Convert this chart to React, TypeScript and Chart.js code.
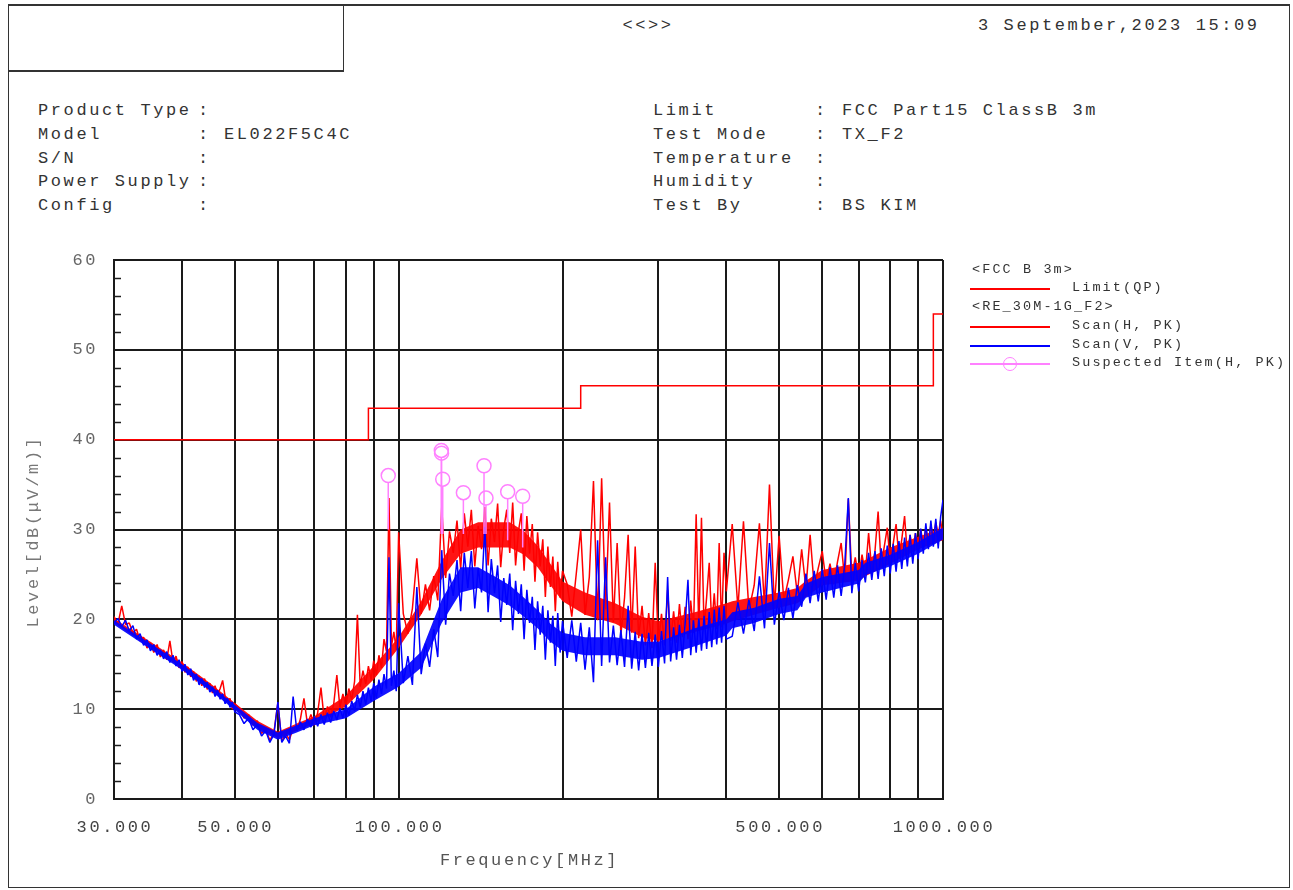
import React, { useEffect, useRef } from "react";
import { Chart, registerables } from "chart.js";

Chart.register(...registerables);

const FONT = '"Liberation Mono", "DejaVu Sans Mono", monospace';

// ---------- data ----------
// scan traces (peak detector), fine grid
const freqBand1 = [30, 30.5, 31, 31.5, 32, 32.5, 33, 33.5, 34, 34.5, 35, 35.5, 36, 36.5, 37, 37.5, 38, 38.5, 39, 39.5, 40, 40.5, 41, 41.5, 42, 42.5, 43, 43.5, 44, 44.5, 45, 45.5, 46, 46.5, 47, 47.5, 48, 48.5, 49, 49.5, 50];
const redBand1 = [20.3, 19.5, 21.5, 19.4, 19.6, 18.5, 18.9, 17.6, 18.0, 16.8, 17.4, 16.3, 17.2, 15.8, 16.6, 15.5, 17.6, 15.2, 15.9, 14.6, 15.3, 14.1, 14.7, 13.6, 14.2, 13.1, 13.7, 12.6, 13.4, 12.2, 12.9, 11.8, 12.6, 11.6, 12.3, 13.2, 11.4, 10.9, 11.2, 10.0, 10.6];
const blueBand1 = [19.6, 20.1, 19.2, 19.9, 18.7, 19.3, 17.8, 18.4, 17.1, 17.7, 16.5, 17.2, 16.0, 16.6, 15.6, 16.4, 15.2, 16.0, 14.8, 15.5, 14.2, 15.0, 13.8, 14.5, 13.2, 13.9, 12.7, 13.4, 12.4, 13.0, 11.9, 12.5, 11.4, 12.1, 11.1, 11.7, 10.6, 11.2, 10.2, 10.8, 9.7];

const freqBand2 = [51, 52, 53, 54, 55, 56, 57, 58, 59, 60, 61, 62, 63, 64, 65, 66, 67, 68, 69, 70, 71, 72, 73, 74, 75, 76, 77, 78, 79, 80, 81, 82, 83, 84, 85, 86, 87, 88, 89, 90, 91, 92, 93, 94, 95, 96, 97, 98, 99, 100];
const redBand2 = [10.1, 9.0, 9.4, 8.2, 8.7, 7.3, 7.8, 6.5, 7.4, 10.7, 6.4, 7.3, 6.6, 7.9, 7.6, 8.9, 11.2, 8.3, 9.4, 8.2, 9.6, 12.4, 8.8, 10.3, 9.1, 10.6, 13.8, 10.2, 11.7, 10.4, 12.3, 11.0, 13.1, 20.5, 12.5, 14.3, 12.8, 14.8, 13.3, 15.4, 13.8, 16.0, 14.6, 17.8, 16.4, 33.5, 17.0, 18.6, 16.6, 29.7];
const blueBand2 = [9.4, 8.4, 9.0, 7.7, 8.3, 7.0, 7.6, 6.3, 7.2, 10.8, 6.3, 7.0, 6.2, 11.4, 7.6, 8.6, 7.7, 8.9, 8.0, 9.2, 8.1, 9.4, 8.3, 9.6, 8.5, 9.8, 8.8, 10.1, 9.0, 10.5, 9.3, 10.9, 9.8, 11.6, 10.2, 12.0, 10.5, 12.4, 10.9, 12.9, 11.2, 13.3, 11.7, 13.9, 12.3, 26.9, 12.6, 14.3, 12.0, 21.8];

const freqBand3 = [102, 104, 106, 108, 110, 112, 114, 116, 118, 120, 122, 124, 126, 128, 130, 132, 134, 136, 138, 140, 142, 144, 146, 148, 150, 152, 154, 156, 158, 160, 162, 164, 166, 168, 170, 172, 174, 176, 178, 180, 182, 184, 186, 188, 190, 192, 194, 196, 198, 200];
const redBand3 = [20.6, 18.4, 21.2, 26.8, 20.6, 23.9, 21.0, 24.8, 22.1, 32.5, 24.6, 29.8, 27.4, 31.0, 25.6, 31.8, 28.1, 32.2, 25.9, 30.4, 27.8, 32.5, 26.0, 31.2, 28.6, 32.9, 25.8, 30.1, 32.2, 27.4, 33.0, 26.0, 29.8, 31.8, 25.4, 31.5, 27.3, 30.6, 24.2, 29.7, 25.9, 28.9, 22.5, 28.1, 23.6, 27.0, 20.9, 26.4, 22.4, 25.4];
const blueBand3 = [12.9, 15.9, 12.7, 23.6, 13.9, 17.3, 14.7, 18.9, 15.8, 27.7, 19.4, 25.1, 22.6, 26.6, 20.9, 27.4, 23.5, 27.6, 21.2, 25.7, 23.0, 30.3, 20.8, 26.7, 22.9, 26.0, 19.7, 24.6, 21.6, 25.1, 18.8, 24.3, 20.6, 23.9, 17.8, 23.3, 19.6, 22.5, 16.6, 22.0, 18.3, 21.5, 15.5, 21.0, 17.4, 20.4, 14.8, 20.7, 16.3, 19.8];

const freqBand4 = [204, 208, 212, 216, 220, 224, 228, 232, 236, 240, 244, 248, 252, 256, 260, 264, 268, 272, 276, 280, 284, 288, 292, 296, 300, 304, 308, 312, 316, 320, 324, 328, 332, 336, 340, 344, 348, 352, 356, 360, 364, 368, 372, 376, 380, 384, 388, 392, 396, 400];
const redBand4 = [23.9, 20.3, 25.1, 30.0, 20.5, 24.7, 35.4, 19.9, 35.7, 21.1, 33.0, 19.7, 28.5, 18.3, 22.4, 29.4, 18.5, 28.1, 17.9, 21.5, 17.1, 20.7, 16.8, 26.3, 17.3, 20.6, 17.1, 23.3, 17.6, 20.9, 17.4, 21.7, 18.0, 21.4, 17.8, 22.1, 18.5, 31.7, 18.7, 31.3, 19.0, 22.5, 26.3, 19.2, 22.9, 18.9, 28.5, 19.1, 27.4, 23.1];
const blueBand4 = [15.7, 19.9, 15.3, 19.6, 14.4, 19.1, 13.0, 28.8, 14.8, 26.9, 15.2, 19.3, 14.9, 18.8, 14.7, 21.5, 14.5, 18.6, 14.3, 18.4, 14.6, 18.5, 14.8, 18.3, 14.7, 18.7, 15.1, 24.7, 15.3, 19.1, 15.5, 19.4, 15.7, 19.6, 24.4, 16.0, 19.9, 16.3, 20.1, 16.5, 20.4, 16.7, 20.8, 16.9, 21.1, 17.2, 21.3, 17.4, 21.5, 17.8];

const freqBand5 = [410, 420, 430, 440, 450, 460, 470, 480, 490, 500, 510, 520, 530, 540, 550, 560, 570, 580, 590, 600, 610, 620, 630, 640, 650, 660, 670, 680, 690, 700, 710, 720, 730, 740, 750, 760, 770, 780, 790, 800, 810, 820, 830, 840, 850, 860, 870, 880, 890, 900, 910, 920, 930, 940, 950, 960, 970, 980, 990, 1000];
const redBand5 = [30.6, 21.2, 30.9, 21.0, 23.8, 30.7, 21.6, 35.0, 21.4, 29.3, 22.1, 24.4, 27.0, 22.8, 27.8, 23.4, 29.4, 23.6, 25.7, 27.6, 24.1, 26.2, 23.9, 26.4, 28.5, 24.3, 33.4, 24.8, 26.9, 24.6, 27.2, 25.1, 29.6, 25.4, 27.6, 32.0, 25.9, 28.1, 30.2, 26.3, 28.4, 30.6, 26.8, 28.9, 31.5, 27.2, 29.4, 27.6, 29.6, 27.9, 30.0, 28.3, 30.2, 28.6, 30.5, 29.0, 30.8, 29.4, 31.0, 29.2];
const blueBand5 = [18.1, 21.9, 18.4, 22.2, 18.7, 24.8, 19.0, 28.5, 19.4, 23.1, 19.9, 23.5, 20.1, 23.8, 21.4, 25.1, 21.8, 25.4, 22.0, 25.6, 22.2, 25.8, 22.4, 26.0, 22.6, 26.1, 33.5, 22.9, 26.3, 23.1, 26.6, 24.1, 27.4, 24.4, 27.6, 24.5, 27.9, 24.8, 28.2, 25.1, 28.4, 25.3, 28.7, 25.6, 29.1, 25.9, 29.4, 26.2, 29.6, 26.7, 30.1, 27.3, 30.7, 27.8, 31.0, 28.1, 31.2, 27.9, 31.4, 33.3];

const scanFreq = [...freqBand1, ...freqBand2, ...freqBand3, ...freqBand4, ...freqBand5];
const scanH = [...redBand1, ...redBand2, ...redBand3, ...redBand4, ...redBand5];
const scanV = [...blueBand1, ...blueBand2, ...blueBand3, ...blueBand4, ...blueBand5];

// dense core of each noisy trace (lower / upper edge of the solid part)
const bandFreq = [30, 35, 40, 45, 50, 55, 60, 65, 70, 80, 90, 100, 110, 120, 130, 140, 150, 160, 170, 180, 190, 200, 220, 250, 280, 300, 350, 400, 410, 450, 500, 540, 560, 600, 700, 720, 800, 900, 1000];
const scanHLow = [19.6, 16.9, 14.6, 12.3, 10.1, 7.9, 6.8, 7.6, 8.4, 10.3, 13.3, 16.8, 20.5, 24.5, 27.3, 28.0, 28.0, 28.0, 27.2, 25.8, 23.8, 22.0, 20.5, 19.5, 18.0, 17.6, 18.6, 19.5, 19.8, 20.5, 21.3, 21.8, 22.5, 23.8, 24.3, 24.8, 26.2, 27.8, 28.8];
const scanHHigh = [20.1, 17.5, 15.2, 12.9, 10.7, 8.7, 7.5, 8.4, 9.2, 11.5, 14.8, 18.0, 22.0, 26.5, 30.0, 30.8, 30.8, 30.8, 29.8, 28.2, 26.2, 24.2, 23.0, 21.8, 20.3, 19.8, 20.8, 21.8, 22.0, 22.5, 23.0, 23.5, 24.3, 25.5, 26.3, 26.6, 28.0, 29.2, 30.2];
const scanVLow = [19.4, 16.7, 14.4, 12.1, 9.9, 7.7, 6.6, 7.4, 8.2, 9.0, 10.9, 12.5, 14.6, 19.6, 23.0, 23.5, 22.5, 21.5, 20.3, 19.0, 17.5, 16.5, 16.0, 16.0, 15.5, 15.7, 17.0, 18.2, 19.0, 19.6, 20.6, 21.0, 22.4, 23.0, 24.0, 24.9, 25.9, 27.3, 28.9];
const scanVHigh = [19.9, 17.3, 15.0, 12.7, 10.5, 8.5, 7.4, 8.2, 9.0, 10.0, 12.5, 14.0, 16.4, 22.2, 25.8, 25.8, 24.8, 23.8, 22.4, 21.0, 19.5, 18.5, 18.0, 18.0, 17.5, 17.5, 19.0, 20.0, 20.8, 21.3, 22.3, 22.6, 24.0, 24.7, 25.5, 26.3, 27.2, 28.6, 30.2];

const limitFreq = [30, 88, 88, 216, 216, 960, 960, 1000];
const limitLevel = [40, 40, 43.5, 43.5, 46, 46, 54, 54];

const suspectFreq = [95.7, 119.8, 119.9, 120.5, 131.5, 143.5, 144.7, 158.6, 169.0];
const suspectLevel = [36.0, 38.8, 38.5, 35.6, 34.1, 37.1, 33.5, 34.2, 33.7];
const suspectStemLow = [30.0, 29.5, 29.5, 29.5, 29.5, 29.5, 29.5, 28.8, 28.0];

const xGridTicks = [30, 40, 50, 60, 70, 80, 90, 100, 200, 300, 400, 500, 600, 700, 800, 900, 1000];
const xLabelValues = [30, 50, 100, 500, 1000];
const xLabelTexts = ["30.000", "50.000", "100.000", "500.000", "1000.000"];
const yLabelValues = [0, 10, 20, 30, 40, 50, 60];
const yMinorTicks = [2, 4, 6, 8, 12, 14, 16, 18, 22, 24, 26, 28, 32, 34, 36, 38, 42, 44, 46, 48, 52, 54, 56, 58];

const leftFields = [
  ["Product Type", ""],
  ["Model", "EL022F5C4C"],
  ["S/N", ""],
  ["Power Supply", ""],
  ["Config", ""],
];
const rightFields = [
  ["Limit", "FCC Part15 ClassB 3m"],
  ["Test Mode", "TX_F2"],
  ["Temperature", ""],
  ["Humidity", ""],
  ["Test By", "BS KIM"],
];

const RED = "#ff0000";
const BLUE = "#0000ff";
const PINK = "#ff80ff";

const decorPlugin = {
  id: "decor",
  beforeDatasetsDraw(chart: any) {
    const { ctx, chartArea, scales } = chart;
    const y = scales.y;
    ctx.save();
    ctx.strokeStyle = "#1e1e1e";
    ctx.lineWidth = 1.5;
    for (const v of yMinorTicks) {
      const py = Math.round(y.getPixelForValue(v)) + 0.5;
      ctx.beginPath();
      ctx.moveTo(chartArea.left, py);
      ctx.lineTo(chartArea.left + 7, py);
      ctx.stroke();
    }
    ctx.restore();
  },
  afterDatasetsDraw(chart: any) {
    const { ctx, scales } = chart;
    ctx.save();
    ctx.strokeStyle = PINK;
    ctx.lineWidth = 1.5;
    suspectFreq.forEach((f, i) => {
      const px = scales.x.getPixelForValue(f);
      const top = scales.y.getPixelForValue(suspectLevel[i]) + 7;
      const bot = scales.y.getPixelForValue(suspectStemLow[i]);
      ctx.beginPath();
      ctx.moveTo(px, top);
      ctx.lineTo(px, bot);
      ctx.stroke();
    });
    ctx.restore();
  },
  afterDraw(chart: any) {
    const { ctx, chartArea, scales } = chart;
    ctx.save();
    ctx.font = `17px ${FONT}`;
    (ctx as any).letterSpacing = "2.6px";
    ctx.textBaseline = "middle";
    ctx.fillStyle = "#666";
    ctx.textAlign = "right";
    for (const v of yLabelValues) {
      ctx.fillText(String(v), chartArea.left - 16, scales.y.getPixelForValue(v));
    }
    ctx.fillStyle = "#444";
    ctx.textAlign = "center";
    xLabelValues.forEach((v, i) => {
      ctx.fillText(xLabelTexts[i], scales.x.getPixelForValue(v) + 1, chartArea.bottom + 28);
    });
    ctx.fillStyle = "#555";
    ctx.fillText("Frequency[MHz]", (chartArea.left + chartArea.right) / 2 + 1, chartArea.bottom + 61);
    ctx.fillStyle = "#777";
    ctx.translate(33, (chartArea.top + chartArea.bottom) / 2 + 2);
    ctx.rotate(-Math.PI / 2);
    ctx.fillText("Level[dB(\u03bcV/m)]", 0, 0);
    ctx.restore();
  },
};

function pts(freqs: number[], vals: number[]) {
  return freqs.map((f, i) => ({ x: f, y: vals[i] }));
}

function ChartCanvas() {
  const ref = useRef<HTMLCanvasElement | null>(null);
  useEffect(() => {
    if (!ref.current) return;
    const lineBase = { pointRadius: 0, tension: 0, borderJoinStyle: "bevel" };
    const chart = new Chart(ref.current, {
      type: "line",
      data: {
        datasets: [
          {
            label: "Suspected Item(H, PK)",
            data: pts(suspectFreq, suspectLevel),
            showLine: false,
            pointStyle: "circle",
            pointRadius: 7,
            pointBorderWidth: 1.5,
            pointBorderColor: PINK,
            pointBackgroundColor: "rgba(0,0,0,0)",
            order: 0,
          },
          { label: "Scan(V, PK)", data: pts(scanFreq, scanV), borderColor: BLUE, borderWidth: 1.5, ...lineBase, order: 1 },
          {
            label: "V core high",
            data: pts(bandFreq, scanVHigh),
            borderWidth: 0,
            borderColor: "rgba(0,0,0,0)",
            backgroundColor: "rgba(0,0,255,0.92)",
            fill: { target: 3 },
            ...lineBase,
            order: 2,
          },
          { label: "V core low", data: pts(bandFreq, scanVLow), borderWidth: 0, borderColor: "rgba(0,0,0,0)", ...lineBase, order: 3 },
          { label: "Scan(H, PK)", data: pts(scanFreq, scanH), borderColor: RED, borderWidth: 1.5, ...lineBase, order: 4 },
          {
            label: "H core high",
            data: pts(bandFreq, scanHHigh),
            borderWidth: 0,
            borderColor: "rgba(0,0,0,0)",
            backgroundColor: "rgba(255,0,0,0.92)",
            fill: { target: 6 },
            ...lineBase,
            order: 5,
          },
          { label: "H core low", data: pts(bandFreq, scanHLow), borderWidth: 0, borderColor: "rgba(0,0,0,0)", ...lineBase, order: 6 },
          { label: "Limit(QP)", data: pts(limitFreq, limitLevel), borderColor: RED, borderWidth: 1.5, pointRadius: 0, tension: 0, order: 7 },
        ],
      } as any,
      options: {
        animation: false,
        responsive: false,
        maintainAspectRatio: false,
        events: [],
        layout: { padding: { left: 114, top: 30, right: 67, bottom: 81 } },
        plugins: {
          legend: { display: false },
          tooltip: { enabled: false },
          filler: { propagate: false, drawTime: "beforeDatasetDraw" },
        },
        scales: {
          x: {
            type: "logarithmic",
            min: 30,
            max: 1000,
            afterBuildTicks: (scale: any) => {
              scale.ticks = xGridTicks.map((v) => ({ value: v }));
            },
            ticks: { display: false },
            grid: { color: "#1a1a1a", lineWidth: 2, drawTicks: false },
            border: { color: "#1a1a1a", width: 2 },
          },
          y: {
            type: "linear",
            min: 0,
            max: 60,
            ticks: { display: false, stepSize: 10 },
            grid: { color: "#1a1a1a", lineWidth: 2, drawTicks: false },
            border: { color: "#1a1a1a", width: 2 },
          },
        },
      } as any,
      plugins: [decorPlugin],
    });
    return () => chart.destroy();
  }, []);
  return (
    <canvas
      ref={ref}
      width={1010}
      height={650}
      style={{ position: "absolute", left: 0, top: 230, width: 1010, height: 650 }}
    />
  );
}

const textBase: React.CSSProperties = {
  position: "absolute",
  fontFamily: FONT,
  fontSize: 17,
  letterSpacing: "2.6px",
  lineHeight: "20px",
  whiteSpace: "pre",
  color: "#333",
};

const legendText: React.CSSProperties = {
  position: "absolute",
  fontFamily: FONT,
  fontSize: 13.5,
  letterSpacing: "2.1px",
  lineHeight: "16px",
  whiteSpace: "pre",
  color: "#333",
};

function T({ x, y, children, style }: any) {
  return <div style={{ ...textBase, left: x, top: y - 10, ...style }}>{children}</div>;
}

function L({ x, y, children }: any) {
  return <div style={{ ...legendText, left: x, top: y - 8 }}>{children}</div>;
}

function Swatch({ y, color, circle }: any) {
  return (
    <>
      <div style={{ position: "absolute", left: 970, top: y - 1, width: 80, height: 2, background: color }} />
      {circle ? (
        <div
          style={{
            position: "absolute",
            left: 1010 - 7,
            top: y - 7,
            width: 14,
            height: 14,
            boxSizing: "border-box",
            borderRadius: "50%",
            border: `1.5px solid ${color}`,
          }}
        />
      ) : null}
    </>
  );
}

export default function App() {
  return (
    <div style={{ position: "absolute", left: 0, top: 0, width: 1292, height: 889, background: "#fff", overflow: "hidden" }}>
      <div
        style={{
          position: "absolute",
          left: 8,
          top: 4,
          width: 1282,
          height: 884,
          boxSizing: "border-box",
          borderLeft: "1px solid #333",
          borderRight: "1px solid #333",
          borderBottom: "1px solid #333",
          borderTop: "2px solid #333",
        }}
      />
      <div
        style={{
          position: "absolute",
          left: 8,
          top: 4,
          width: 336,
          height: 68,
          boxSizing: "border-box",
          borderRight: "1px solid #333",
          borderBottom: "2px solid #333",
        }}
      />
      <div style={{ ...textBase, left: 548, top: 16, width: 200, textAlign: "center" }}>{"<<>>"}</div>
      <T x={978} y={26}>3 September,2023 15:09</T>

      {leftFields.map(([k, v], i) => (
        <React.Fragment key={"l" + i}>
          <T x={38} y={111 + i * 23.75}>{k}</T>
          <T x={198} y={111 + i * 23.75}>:</T>
          <T x={224} y={111 + i * 23.75}>{v}</T>
        </React.Fragment>
      ))}
      {rightFields.map(([k, v], i) => (
        <React.Fragment key={"r" + i}>
          <T x={653} y={111 + i * 23.75}>{k}</T>
          <T x={815} y={111 + i * 23.75}>:</T>
          <T x={842} y={111 + i * 23.75}>{v}</T>
        </React.Fragment>
      ))}

      <ChartCanvas />

      <L x={972} y={270}>{"<FCC B 3m>"}</L>
      <Swatch y={289} color={RED} />
      <L x={1072} y={288}>Limit(QP)</L>
      <L x={972} y={307}>{"<RE_30M-1G_F2>"}</L>
      <Swatch y={327} color={RED} />
      <L x={1072} y={326}>Scan(H, PK)</L>
      <Swatch y={346} color={BLUE} />
      <L x={1072} y={345}>Scan(V, PK)</L>
      <Swatch y={364} color={PINK} circle />
      <L x={1072} y={363}>Suspected Item(H, PK)</L>
    </div>
  );
}
